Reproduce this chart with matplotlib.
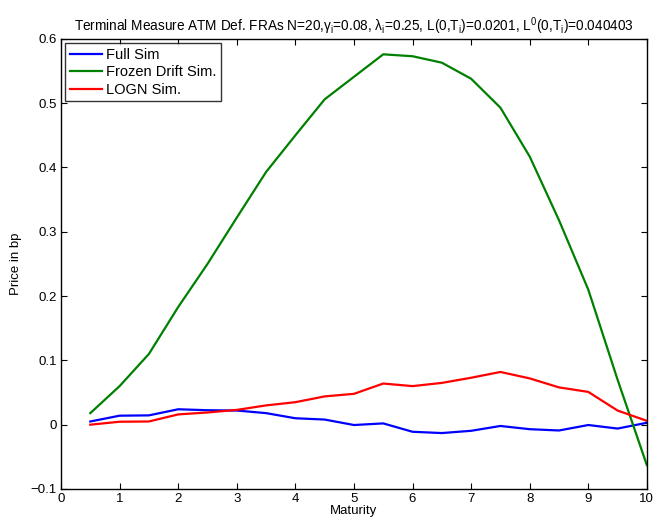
import matplotlib
matplotlib.use("Agg")
import matplotlib.pyplot as plt

plt.rcParams["font.family"] = ["Liberation Sans", "DejaVu Sans"]
plt.rcParams["mathtext.fontset"] = "custom"
plt.rcParams["mathtext.rm"] = "Liberation Sans"
plt.rcParams["mathtext.it"] = "Liberation Sans"

maturity = [0.5, 1, 1.5, 2, 2.5, 3, 3.5, 4, 4.5, 5,
            5.5, 6, 6.5, 7, 7.5, 8, 8.5, 9, 9.5, 10]
full_sim = [0.005, 0.014, 0.0145, 0.024, 0.0225, 0.022, 0.018, 0.010, 0.008, -0.0005,
            0.002, -0.011, -0.013, -0.0095, -0.002, -0.007, -0.009, -0.0005, -0.006, 0.003]
frozen_drift = [0.018, 0.060, 0.110, 0.183, 0.250, 0.322, 0.393, 0.450, 0.506, 0.541,
                0.576, 0.573, 0.563, 0.538, 0.493, 0.417, 0.318, 0.210, 0.070, -0.063]
logn_sim = [0.0, 0.0046, 0.005, 0.016, 0.019, 0.023, 0.030, 0.035, 0.044, 0.048,
            0.064, 0.060, 0.065, 0.073, 0.082, 0.072, 0.058, 0.051, 0.022, 0.006]

fig = plt.figure(figsize=(6.59, 5.24), dpi=100)
ax = fig.add_axes([0.0926, 0.0668, 0.889, 0.859])

ax.plot(maturity, full_sim, color="#0000ff", lw=1.6, label="Full Sim")
ax.plot(maturity, frozen_drift, color="#008000", lw=1.6, label="Frozen Drift Sim.")
ax.plot(maturity, logn_sim, color="#ff0000", lw=1.6, label="LOGN Sim.")

ax.set_xlim(0, 10)
ax.set_ylim(-0.1, 0.6)
ax.set_xticks(range(0, 11))
ax.set_yticks([-0.1, 0, 0.1, 0.2, 0.3, 0.4, 0.5, 0.6])
ax.set_yticklabels(["\u22120.1", "0", "0.1", "0.2", "0.3", "0.4", "0.5", "0.6"])
ax.tick_params(direction="in", top=True, right=True, labelsize=9.5, length=4.5,
               width=0.8, pad=3)
for s in ax.spines.values():
    s.set_linewidth(1.0)

ax.set_xlabel("Maturity", fontsize=9.5, labelpad=0)
ax.set_ylabel("Price in bp", fontsize=9.5, labelpad=6)
ax.set_title("Terminal Measure ATM Def. FRAs N=20,\u03b3$_\\mathrm{i}$=0.08, "
             "\u03bb$_\\mathrm{i}$=0.25, L(0,T$_\\mathrm{i}$)=0.0201, "
             "L$^\\mathrm{0}$(0,T$_\\mathrm{i}$)=0.040403", fontsize=9.8, pad=6)

leg = ax.legend(loc="upper left", fontsize=10.5, frameon=True, fancybox=False,
                edgecolor="black", borderaxespad=0.3, handlelength=2.2,
                handletextpad=0.3, labelspacing=0.25, borderpad=0.3)
leg.get_frame().set_linewidth(1.0)

fig.savefig("out.png", dpi=100)
